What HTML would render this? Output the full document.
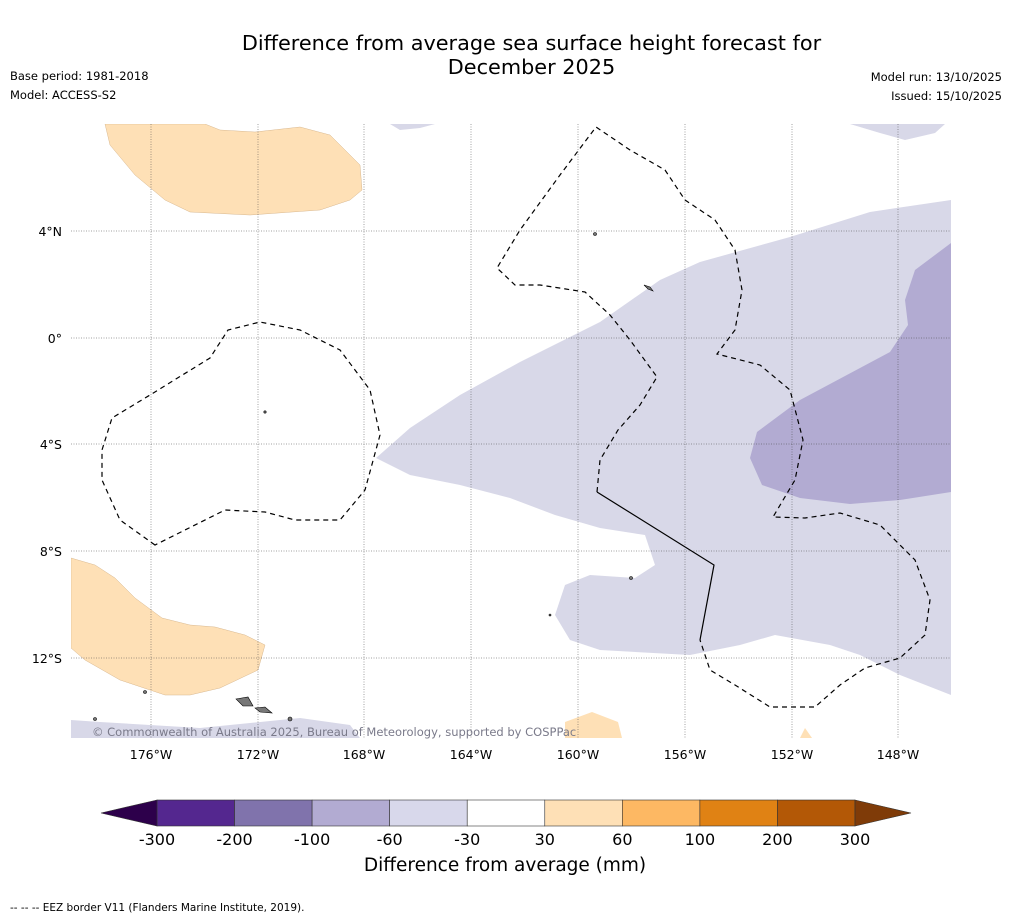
<!DOCTYPE html>
<html><head><meta charset="utf-8">
<style>
body{margin:0;background:#fff;font-family:"DejaVu Sans","Liberation Sans",sans-serif;}
#wrap{position:relative;width:1011px;height:919px;overflow:hidden;background:#fff;}
.t{position:absolute;white-space:nowrap;color:#000;}
svg text{font-family:"DejaVu Sans","Liberation Sans",sans-serif;}
</style></head><body>
<div id="wrap">
<div class="t" style="left:0;width:1063px;top:31px;text-align:center;font-size:20.8px;line-height:24px;">Difference from average sea surface height forecast for<br>December 2025</div>
<div class="t" style="left:10px;top:69px;font-size:11.5px;">Base period: 1981-2018</div>
<div class="t" style="left:10px;top:88px;font-size:11.5px;">Model: ACCESS-S2</div>
<div class="t" style="right:9px;top:70px;font-size:11.5px;">Model run: 13/10/2025</div>
<div class="t" style="right:9px;top:89px;font-size:11.5px;">Issued: 15/10/2025</div>
<svg id="map" width="1011" height="919" style="position:absolute;left:0;top:0">
<defs><clipPath id="mc"><rect x="71" y="124" width="880" height="614"/></clipPath></defs>
<g clip-path="url(#mc)">
<path fill="#d8d8e8" d="M376,458 L410,428 460,395 520,362 600,322 660,280 700,262 790,237 870,212 951,200 951,695 900,675 860,655 830,645 775,635 740,645 690,655 600,650 570,640 555,615 565,585 590,575 635,578 655,565 645,535 600,528 555,515 510,498 460,485 410,475Z"/>
<path fill="#b2abd2" d="M951,243 L915,270 905,300 908,325 890,352 800,400 757,432 750,458 762,485 800,498 850,504 900,500 951,492Z"/>
<path fill="#d8d8e8" d="M850,124 L945,124 935,133 905,140 880,133Z"/>
<path fill="#d8d8e8" d="M390,124 L435,124 420,128 400,130Z"/>
<path fill="#d8d8e8" d="M71,720 L100,722 200,728 300,718 350,725 360,738 71,738Z"/>
<path fill="#fee0b6" stroke="#d8b890" stroke-width="0.5" d="M105,124 L110,145 135,175 165,200 190,212 250,215 320,210 350,200 362,190 360,165 330,135 300,127 255,132 220,130 205,124Z"/>
<path fill="#fee0b6" stroke="#d8b890" stroke-width="0.5" d="M71,558 L95,565 115,578 135,598 162,618 190,625 215,627 245,635 265,645 258,670 220,688 190,695 165,695 120,680 85,660 71,648Z"/>
<path fill="#fee0b6" d="M565,722 L592,712 618,722 622,738 565,738Z"/>
<path fill="#fee0b6" d="M800,738 L805,728 812,738Z"/>
<g stroke="#444" stroke-width="0.5" stroke-dasharray="1,1.5" fill="none">
<line x1="151" y1="124" x2="151" y2="738"/><line x1="258" y1="124" x2="258" y2="738"/><line x1="364" y1="124" x2="364" y2="738"/><line x1="471" y1="124" x2="471" y2="738"/><line x1="578" y1="124" x2="578" y2="738"/><line x1="685" y1="124" x2="685" y2="738"/><line x1="792" y1="124" x2="792" y2="738"/><line x1="898" y1="124" x2="898" y2="738"/>
<line x1="71" y1="231" x2="951" y2="231"/><line x1="71" y1="338" x2="951" y2="338"/><line x1="71" y1="444" x2="951" y2="444"/><line x1="71" y1="551" x2="951" y2="551"/><line x1="71" y1="658" x2="951" y2="658"/>
</g>
<g fill="none" stroke="#000" stroke-width="1.2">
<path stroke-dasharray="5,4" d="M155,545 L120,520 102,480 102,450 112,418 150,395 210,358 228,330 260,322 300,330 340,350 370,390 380,435 365,490 340,520 295,520 265,512 225,510 155,545Z"/>
<path stroke-dasharray="5,4" d="M597,492 L600,460 618,430 640,405 657,377 630,340 610,315 585,292 540,285 515,285 497,268 520,230 560,175 596,127 630,150 665,170 685,200 715,220 735,250 742,290 735,330 717,354 760,365 790,390 803,440 795,480 773,517 805,518 840,513 880,525 915,560 930,600 925,635 900,658 865,668 840,685 815,707 770,707 735,685 710,670 700,640"/>
<path d="M700,640 L714,565 597,492"/>
</g>
<g fill="#777" stroke="#000" stroke-width="0.6">
<path d="M236,699 L248,697 253,706 243,706Z"/><path d="M255,708 L265,707 272,713 260,712Z"/>
<path d="M644,285 l6,2 3,4 -5,-2Z"/><circle cx="595" cy="234" r="1.5"/><circle cx="265" cy="412" r="1.2"/><circle cx="631" cy="578" r="1.5"/>
<circle cx="290" cy="719" r="2"/><circle cx="145" cy="692" r="1.5"/><circle cx="95" cy="719" r="1.5"/><circle cx="550" cy="615" r="1"/>
</g>
</g>
<g font-size="12.5" fill="#000">
<text x="151" y="759" text-anchor="middle">176°W</text><text x="258" y="759" text-anchor="middle">172°W</text><text x="364" y="759" text-anchor="middle">168°W</text><text x="471" y="759" text-anchor="middle">164°W</text><text x="578" y="759" text-anchor="middle">160°W</text><text x="685" y="759" text-anchor="middle">156°W</text><text x="792" y="759" text-anchor="middle">152°W</text><text x="898" y="759" text-anchor="middle">148°W</text>
<text x="62" y="236" text-anchor="end">4°N</text><text x="62" y="343" text-anchor="end">0°</text><text x="62" y="449" text-anchor="end">4°S</text><text x="62" y="556" text-anchor="end">8°S</text><text x="62" y="663" text-anchor="end">12°S</text>
</g>
<text x="92" y="736" font-size="11.5" fill="#7a7a8a">© Commonwealth of Australia 2025, Bureau of Meteorology, supported by COSPPac</text>
<g id="cbar"></g>
<text x="505" y="871" font-size="18.5" text-anchor="middle">Difference from average (mm)</text>
<text x="10" y="911" font-size="10.5">--  --  -- EEZ border V11 (Flanders Marine Institute, 2019).</text>
</svg>
<script>
const levels=[-300,-200,-100,-60,-30,30,60,100,200,300];
const tickLabels=["-300","-200","-100","-60","-30","30","60","100","200","300"];
const binColors=["#54278f","#8073ac","#b2abd2","#d8d8eb","#ffffff","#fee0b6","#fdb863","#e08214","#b35806"];
const extColors=["#2d004b","#7f3b08"];
const ns="http://www.w3.org/2000/svg";
const g=document.getElementById('cbar');
const x0=157,x1=855,y0=800,y1=826;
const step=(x1-x0)/(levels.length-1);
function xi(i){return x0+i*step;}
function mk(t,a){const e=document.createElementNS(ns,t);for(const k in a)e.setAttribute(k,a[k]);g.appendChild(e);return e;}
binColors.forEach((c,i)=>{
 const r=mk('rect',{x:xi(i),y:y0,width:step,height:y1-y0,fill:c,stroke:'#333','stroke-width':0.6});
 
 
});
const l=mk('polygon',{points:`${x0},${y0} ${x0-56},${(y0+y1)/2} ${x0},${y1}`,fill:extColors[0],stroke:'#333','stroke-width':0.6});


const r=mk('polygon',{points:`${x1},${y0} ${x1+56},${(y0+y1)/2} ${x1},${y1}`,fill:extColors[1],stroke:'#333','stroke-width':0.6});


tickLabels.forEach((s,i)=>{
 const t=mk('text',{x:xi(i),y:845,'font-size':16,'text-anchor':'middle'});
 t.textContent=s;
 
 
});
</script>
</div>
</body></html>
